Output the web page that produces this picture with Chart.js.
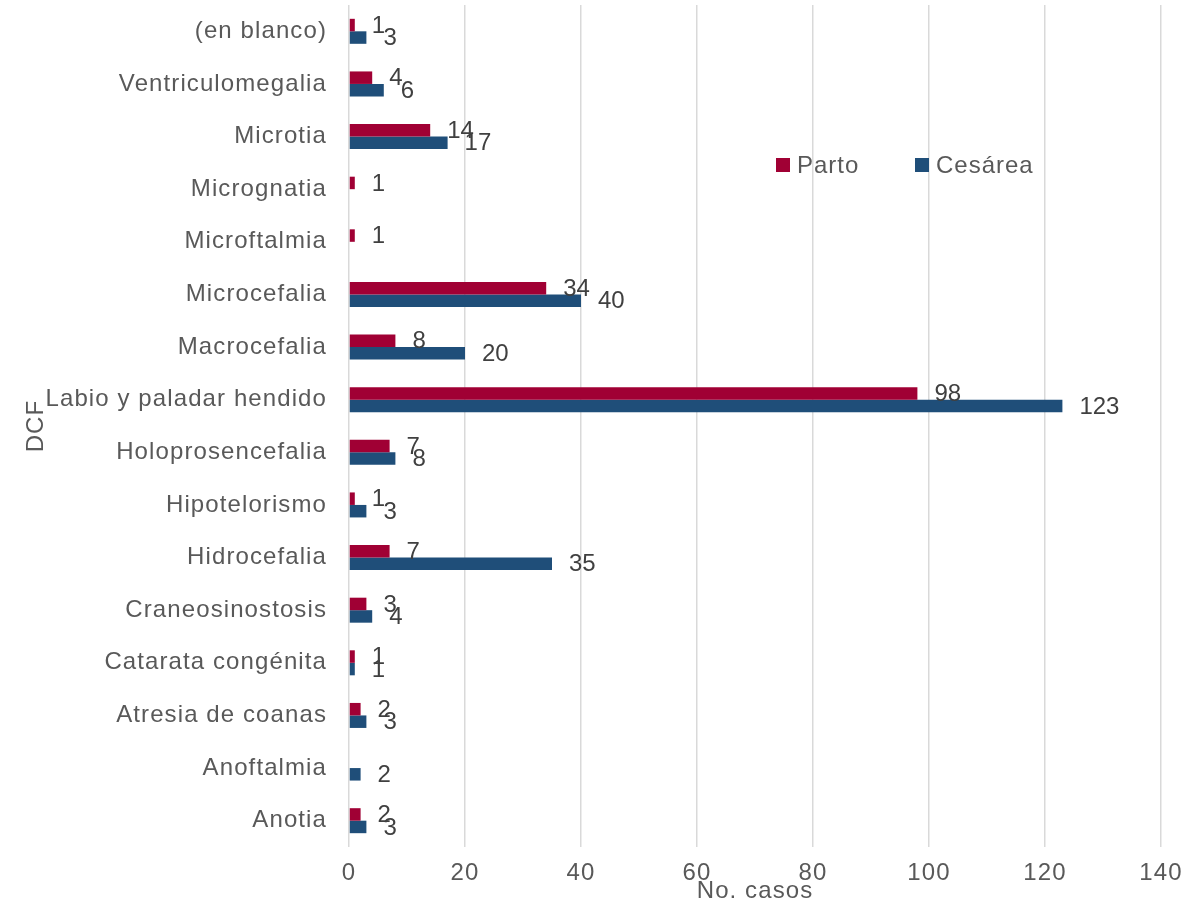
<!DOCTYPE html>
<html>
<head>
<meta charset="utf-8">
<script src="https://cdn.jsdelivr.net/npm/chart.js@4.4.1/dist/chart.umd.min.js"></script>
<style>
  html, body { margin: 0; padding: 0; background: #fff; }
  #wrap { width: 1186px; height: 904px; }
</style>
</head>
<body>
<div id="wrap"><canvas id="dcf"></canvas></div>
<script>
var categorias = ["(en blanco)", "Ventriculomegalia", "Microtia", "Micrognatia", "Microftalmia",
  "Microcefalia", "Macrocefalia", "Labio y paladar hendido", "Holoprosencefalia", "Hipotelorismo",
  "Hidrocefalia", "Craneosinostosis", "Catarata congénita", "Atresia de coanas", "Anoftalmia", "Anotia"];
var parto = [1, 4, 14, 1, 1, 34, 8, 98, 7, 1, 7, 3, 1, 2, null, 2];
var cesarea = [3, 6, 17, null, null, 40, 20, 123, 8, 3, 35, 4, 1, 3, 2, 3];
var ticksX = [0, 20, 40, 60, 80, 100, 120, 140];

var rojo = '#A00034';
var azul = '#1F4E79';
var fuente = "'Liberation Sans', Arial, sans-serif";

// the original text is a bit wider than Liberation Sans, so spread the letters a little
var espaciado = {
  id: 'espaciado',
  beforeDraw: function (chart) { chart.ctx.letterSpacing = '1.1px'; },
  beforeDatasetsDraw: function (chart) { chart.ctx.letterSpacing = '0px'; }
};

// numbers at the end of each bar
var etiquetas = {
  id: 'etiquetas',
  afterDatasetsDraw: function (chart) {
    var ctx = chart.ctx;
    ctx.save();
    ctx.font = '24px ' + fuente;
    ctx.fillStyle = '#404040';
    ctx.textAlign = 'left';
    ctx.textBaseline = 'middle';
    chart.data.datasets.forEach(function (ds, i) {
      chart.getDatasetMeta(i).data.forEach(function (bar, j) {
        if (ds.data[j] == null) return;
        ctx.fillText(ds.data[j], bar.x + 17, bar.y + 1);
      });
    });
    ctx.restore();
  }
};

// legend inside the plot, like the original
var leyenda = {
  id: 'leyenda',
  afterDraw: function (chart) {
    var ctx = chart.ctx;
    var pos = [776, 915];
    ctx.save();
    ctx.font = '24px ' + fuente;
    ctx.letterSpacing = '1px';
    ctx.textBaseline = 'middle';
    chart.data.datasets.forEach(function (ds, i) {
      ctx.fillStyle = ds.backgroundColor;
      ctx.fillRect(pos[i], 158, 14, 14);
      ctx.fillStyle = '#595959';
      ctx.fillText(ds.label, pos[i] + 21, 166);
    });
    ctx.restore();
  }
};

new Chart(document.getElementById('dcf'), {
  type: 'bar',
  data: {
    labels: categorias,
    datasets: [
      { label: 'Parto', data: parto, backgroundColor: rojo },
      { label: 'Cesárea', data: cesarea, backgroundColor: azul }
    ]
  },
  options: {
    indexAxis: 'y',
    responsive: true,
    maintainAspectRatio: false,
    animation: false,
    layout: { padding: { top: 5, right: 25, bottom: 0, left: 0 } },
    datasets: { bar: { categoryPercentage: 0.475, barPercentage: 1 } },
    plugins: { legend: { display: false }, tooltip: { enabled: false } },
    scales: {
      x: {
        min: 0,
        max: 140,
        afterBuildTicks: function (scale) {
          scale.ticks = ticksX.map(function (v) { return { value: v }; });
        },
        afterFit: function (scale) {
          scale.height = 57;
          scale.paddingLeft = 0;
          scale.paddingRight = 0;
        },
        grid: { color: '#d9d9d9', lineWidth: 1.5, drawTicks: false },
        border: { display: false },
        ticks: { color: '#595959', font: { size: 24, family: fuente }, padding: 12 },
        title: {
          display: true, text: 'No. casos', color: '#595959',
          font: { size: 24, family: fuente }, padding: { top: 0, bottom: -2 }
        }
      },
      y: {
        afterFit: function (scale) {
          scale.width = 349;
          scale.paddingTop = 0;
          scale.paddingBottom = 0;
        },
        grid: { display: false, drawTicks: false },
        border: { display: false },
        ticks: { color: '#595959', font: { size: 24, family: fuente }, padding: 22 },
        title: {
          display: true, text: 'DCF', color: '#595959',
          font: { size: 24, family: fuente }, padding: { top: 22, bottom: 0 }
        }
      }
    }
  },
  plugins: [espaciado, etiquetas, leyenda]
});
</script>
</body>
</html>
